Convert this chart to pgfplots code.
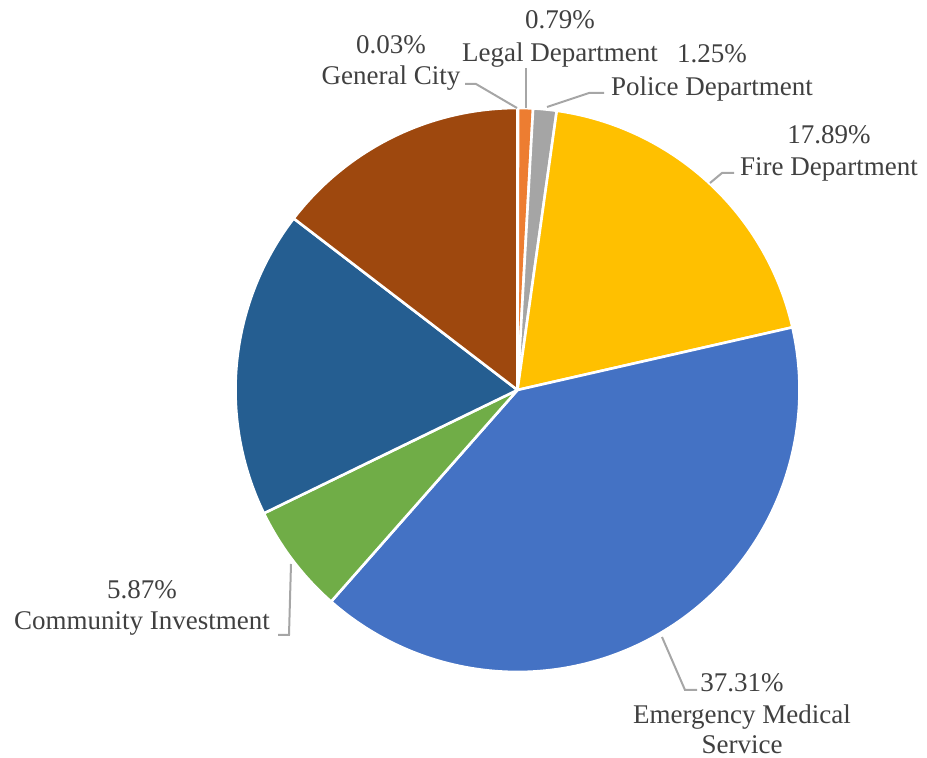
\documentclass[border=0pt]{standalone}
\usepackage{pgfplots}
\usepackage{pgfplotstable}
\pgfplotsset{compat=1.18}
\usepackage{fontspec}
\setmainfont{Liberation Serif}
\definecolor{slice0}{HTML}{5B9BD5}
\definecolor{slice1}{HTML}{ED7D31}
\definecolor{slice2}{HTML}{A5A5A5}
\definecolor{slice3}{HTML}{FFC000}
\definecolor{slice4}{HTML}{4472C4}
\definecolor{slice5}{HTML}{70AD47}
\definecolor{slice6}{HTML}{255E91}
\definecolor{slice7}{HTML}{9E480E}
\definecolor{txt}{HTML}{404040}
\definecolor{lead}{HTML}{A6A6A6}
% slice values (percent labels as shown; last two slices are unlabeled)
\pgfplotstableread{
label value
GeneralCity 0.03
Legal 0.79
Police 1.25
Fire 17.89
EMS 37.31
Community 5.87
Unlabeled1 16.40
Unlabeled2 13.59
}\piedata
\begin{document}%
\pgfplotstablegetrowsof{\piedata}%
\pgfmathtruncatemacro\nrows{\pgfplotsretval-1}%
\gdef\pietotal{0}%
\foreach \i in {0,...,\nrows}{%
  \pgfplotstablegetelem{\i}{value}\of\piedata%
  \pgfmathsetmacro\tmp{\pietotal+\pgfplotsretval}%
  \xdef\pietotal{\tmp}%
}%
\gdef\piecum{0}%
\foreach \i in {0,...,\nrows}{%
  \pgfplotstablegetelem{\i}{value}\of\piedata%
  \pgfmathsetmacro\tmpc{\piecum+\pgfplotsretval}%
  \pgfmathsetmacro\tmpa{(\piecum/\pietotal)*360}%
  \pgfmathsetmacro\tmpb{(\tmpc/\pietotal)*360}%
  \expandafter\xdef\csname pieS\i\endcsname{\tmpa}%
  \expandafter\xdef\csname pieE\i\endcsname{\tmpb}%
  \xdef\piecum{\tmpc}%
}%
\begin{tikzpicture}[lbl/.style={font=\fontsize{13.5pt}{16pt}\selectfont, text=txt, inner sep=0pt, anchor=base}]
\useasboundingbox (0,0) rectangle (463.5pt,379pt);
\begin{axis}[
  width=463.5pt, height=379pt, scale only axis,
  xmin=0, xmax=927, ymin=0, ymax=758, y dir=reverse,
  hide axis, clip=false,
]
\pgfplotsinvokeforeach{0,...,7}{
  \addplot[draw=white, line width=1.3pt, line join=round, fill=slice#1,
    domain=\csname pieS#1\endcsname:\csname pieE#1\endcsname, samples=150, variable=\t]
    ({517.5+282*sin(\t)}, {390-282*cos(\t)}) -- (axis cs:517.5,390) -- cycle;
}
% leader lines
\addplot[lead, line width=1pt] coordinates {(465,84) (476,84) (517,108)};
\addplot[lead, line width=1pt] coordinates {(526,68) (526,108)};
\addplot[lead, line width=1pt] coordinates {(547,107) (589,93) (604,93)};
\addplot[lead, line width=1pt] coordinates {(710,183) (722,173) (734,173)};
\addplot[lead, line width=1pt] coordinates {(291,564) (289,635) (278,635)};
\addplot[lead, line width=1pt] coordinates {(662,637) (685,690) (697,690)};
% labels
\node[lbl] at (axis cs:391,54) {0.03\%};
\node[lbl] at (axis cs:391,85) {General City};
\node[lbl] at (axis cs:560,29) {0.79\%};
\node[lbl] at (axis cs:560,62) {Legal Department};
\node[lbl] at (axis cs:712,63) {1.25\%};
\node[lbl] at (axis cs:712,96) {Police Department};
\node[lbl] at (axis cs:829,144) {17.89\%};
\node[lbl] at (axis cs:829,176) {Fire Department};
\node[lbl] at (axis cs:142,599) {5.87\%};
\node[lbl] at (axis cs:142,630) {Community Investment};
\node[lbl] at (axis cs:742,692) {37.31\%};
\node[lbl] at (axis cs:742,724) {Emergency Medical};
\node[lbl] at (axis cs:742,754) {Service};
\end{axis}
\end{tikzpicture}%
\end{document}
